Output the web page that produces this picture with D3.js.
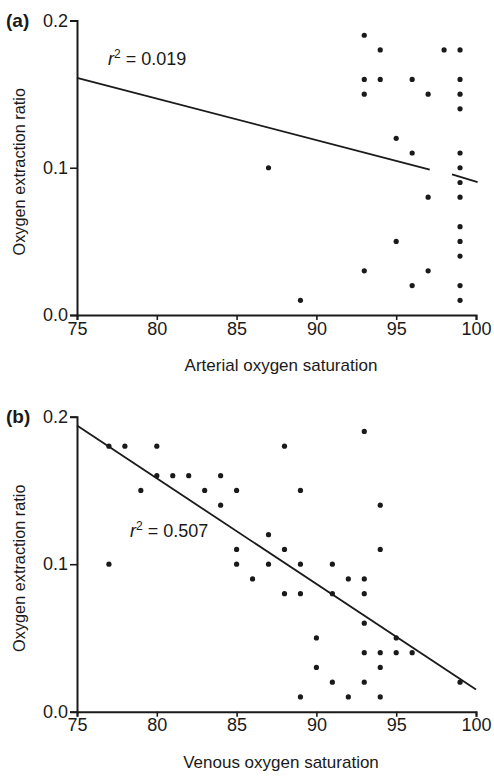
<!DOCTYPE html>
<html>
<head>
<meta charset="utf-8">
<script src="https://cdn.jsdelivr.net/npm/d3@7/dist/d3.min.js"></script>
<style>
  html, body { margin: 0; padding: 0; background: #fff; }
  svg { display: block; }
  text { font-family: "Liberation Sans", Arial, Helvetica, sans-serif; fill: #1a1a1a; }
</style>
</head>
<body>
<svg id="chart" width="494" height="779"></svg>
<script>
// ---- Data ----
const xTicks = [75, 80, 85, 90, 95, 100];
const yTicks = [0.0, 0.1, 0.2];
const yTickLabels = ["0.0", "0.1", "0.2"];

// Panel (a): arterial oxygen saturation vs oxygen extraction ratio
const arterialSat = [93, 94, 98, 99, 93, 94, 96, 99, 93, 97, 99, 99, 95, 96, 99, 87, 99, 99, 97, 99, 99, 95, 99, 99, 93, 97, 96, 99, 89, 99];
const arterialOER = [0.19, 0.18, 0.18, 0.18, 0.16, 0.16, 0.16, 0.16, 0.15, 0.15, 0.15, 0.14, 0.12, 0.11, 0.11, 0.10, 0.10, 0.09, 0.08, 0.08, 0.06, 0.05, 0.05, 0.04, 0.03, 0.03, 0.02, 0.02, 0.01, 0.01];
// regression line (a), drawn in two pieces as in the original
const regA_x = [[75, 97.1], [98.5, 100.1]];
const regA_y = [[0.161, 0.0988], [0.0955, 0.0903]];
const r2A = "0.019";

// Panel (b): venous oxygen saturation vs oxygen extraction ratio
const venousSat = [93, 77, 78, 80, 88, 80, 81, 82, 84, 79, 83, 85, 89, 84, 94, 87, 85, 88, 94, 77, 85, 87, 89, 91, 86, 92, 93, 88, 89, 91, 93, 93, 90, 95, 93, 94, 95, 96, 90, 94, 91, 93, 99, 89, 92, 94];
const venousOER = [0.19, 0.18, 0.18, 0.18, 0.18, 0.16, 0.16, 0.16, 0.16, 0.15, 0.15, 0.15, 0.15, 0.14, 0.14, 0.12, 0.11, 0.11, 0.11, 0.10, 0.10, 0.10, 0.10, 0.10, 0.09, 0.09, 0.09, 0.08, 0.08, 0.08, 0.08, 0.06, 0.05, 0.05, 0.04, 0.04, 0.04, 0.04, 0.03, 0.03, 0.02, 0.02, 0.02, 0.01, 0.01, 0.01];
const regB_x = [[75, 100]];
const regB_y = [[0.194, 0.015]];
const r2B = "0.507";

const panels = [
  { label: "(a)", xs: arterialSat, ys: arterialOER, regX: regA_x, regY: regA_y, r2: r2A,
    xTitle: "Arterial oxygen saturation", top: 20.5, bottom: 315, r2Pos: [108, 65] },
  { label: "(b)", xs: venousSat, ys: venousOER, regX: regB_x, regY: regB_y, r2: r2B,
    xTitle: "Venous oxygen saturation", top: 416.7, bottom: 711.7, r2Pos: [130, 537] }
];

const svg = d3.select("#chart");
const left = 77, right = 476;
const ink = "#1a1a1a";

panels.forEach(p => {
  const x = d3.scaleLinear().domain([75, 100]).range([left, right]);
  const y = d3.scaleLinear().domain([0, 0.2]).range([p.bottom, p.top]);
  const g = svg.append("g");

  // x axis
  const xa = g.append("g").attr("transform", `translate(0,${p.bottom})`)
    .call(d3.axisBottom(x).tickValues(xTicks).tickFormat(d3.format("d"))
      .tickSize(5).tickSizeOuter(5).tickPadding(2));
  // y axis
  const ya = g.append("g").attr("transform", `translate(${left},0)`)
    .call(d3.axisLeft(y).tickValues(yTicks).tickFormat((d, i) => yTickLabels[i])
      .tickSize(7).tickSizeOuter(7).tickPadding(2));
  [xa, ya].forEach(a => {
    a.selectAll("path.domain").attr("stroke", ink).attr("stroke-width", 2);
    a.selectAll(".tick line").attr("stroke", ink).attr("stroke-width", 1.6);
    a.selectAll(".tick text").attr("font-size", 18).style("fill", ink)
      .attr("font-family", "'Liberation Sans', Arial, sans-serif");
  });

  // regression line(s)
  p.regX.forEach((seg, i) => {
    g.append("line")
      .attr("x1", x(seg[0])).attr("y1", y(p.regY[i][0]))
      .attr("x2", x(seg[1])).attr("y2", y(p.regY[i][1]))
      .attr("stroke", ink).attr("stroke-width", 1.8);
  });

  // points
  g.append("g").selectAll("circle").data(p.xs).join("circle")
    .attr("cx", d => x(d)).attr("cy", (d, i) => y(p.ys[i]))
    .attr("r", 2.6).attr("fill", ink);

  // r^2 annotation
  const t = g.append("text").attr("x", p.r2Pos[0]).attr("y", p.r2Pos[1]).attr("font-size", 18);
  t.append("tspan").attr("font-style", "italic").text("r");
  t.append("tspan").attr("font-size", 12).attr("dy", -7).text("2");
  t.append("tspan").attr("dy", 7).text(" = " + p.r2);

  // panel label
  g.append("text").attr("x", 6).attr("y", p.top + 6).attr("font-size", 19)
    .attr("font-weight", "bold").text(p.label);

  // x title
  g.append("text").attr("x", 281).attr("y", p.bottom + 56).attr("text-anchor", "middle")
    .attr("font-size", 17).text(p.xTitle);

  // y title
  const cy = (p.top + p.bottom) / 2 + 4;
  g.append("text").attr("transform", `translate(25,${cy}) rotate(-90)`)
    .attr("text-anchor", "middle").attr("font-size", 16.3).text("Oxygen extraction ratio");
});
</script>
</body>
</html>
